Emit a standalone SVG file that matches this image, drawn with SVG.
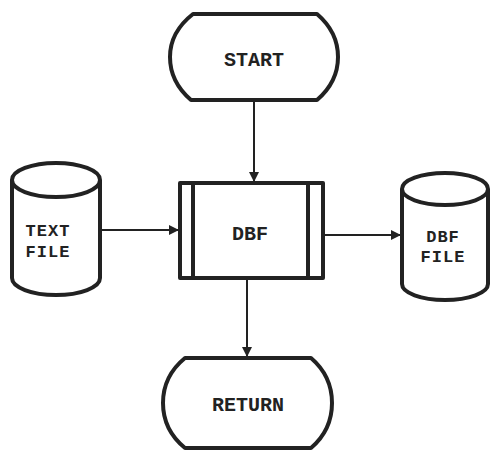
<svg xmlns="http://www.w3.org/2000/svg" width="491" height="452" viewBox="0 0 491 452">
<defs>
<style>
.shape{fill:#fff;stroke:#222;stroke-width:4;stroke-linejoin:round}
.thin{fill:none;stroke:#222;stroke-width:4}
.conn{fill:none;stroke:#222;stroke-width:2}
.lbl{font-family:"Liberation Mono","DejaVu Sans Mono",monospace;font-weight:bold;font-size:20px;fill:#222;text-anchor:middle}
.sm{font-size:17px;letter-spacing:1px}
</style>
<marker id="ah" markerWidth="10" markerHeight="10" refX="9" refY="5" orient="auto" markerUnits="userSpaceOnUse">
<path d="M0,0 L10,5 L0,10 Z" fill="#222"/>
</marker>
</defs>
<rect width="491" height="452" fill="#fff"/>
<g id="start">
<path class="shape" d="M193,14 L317,14 Q338,32 338,57 Q338,82 317,100 L191,100 Q170,82 170,57 Q170,32 193,14 Z"/>
<text class="lbl" x="254" y="66">START</text>
</g>
<g id="dbf">
<rect class="shape" x="180" y="183" width="143" height="95"/>
<line class="thin" x1="193" y1="183" x2="193" y2="278"/>
<line class="thin" x1="308" y1="183" x2="308" y2="278"/>
<text class="lbl" x="250" y="240">DBF</text>
</g>
<g id="textfile">
<path class="shape" d="M12,180 L12,278 A44,17 0 0 0 100,278 L100,180"/>
<ellipse class="shape" cx="56" cy="180" rx="44" ry="17"/>
<text class="lbl sm" x="48" y="236">TEXT</text>
<text class="lbl sm" x="48" y="257">FILE</text>
</g>
<g id="dbffile">
<path class="shape" d="M402,189 L402,284 A43,16 0 0 0 488,284 L488,189"/>
<ellipse class="shape" cx="445" cy="189" rx="43" ry="16"/>
<text class="lbl sm" x="443" y="242">DBF</text>
<text class="lbl sm" x="443" y="262">FILE</text>
</g>
<g id="return">
<path class="shape" d="M185,358 L311,358 Q332,376 332,403 Q332,430 311,448 L185,448 Q163,430 163,403 Q163,376 185,358 Z"/>
<text class="lbl" x="248" y="411">RETURN</text>
</g>
<g id="connectors">
<line class="conn" x1="254" y1="102" x2="254" y2="181" marker-end="url(#ah)"/>
<line class="conn" x1="102" y1="230" x2="178" y2="230" marker-end="url(#ah)"/>
<line class="conn" x1="325" y1="235" x2="400" y2="235" marker-end="url(#ah)"/>
<line class="conn" x1="247" y1="280" x2="247" y2="356" marker-end="url(#ah)"/>
</g>
</svg>
